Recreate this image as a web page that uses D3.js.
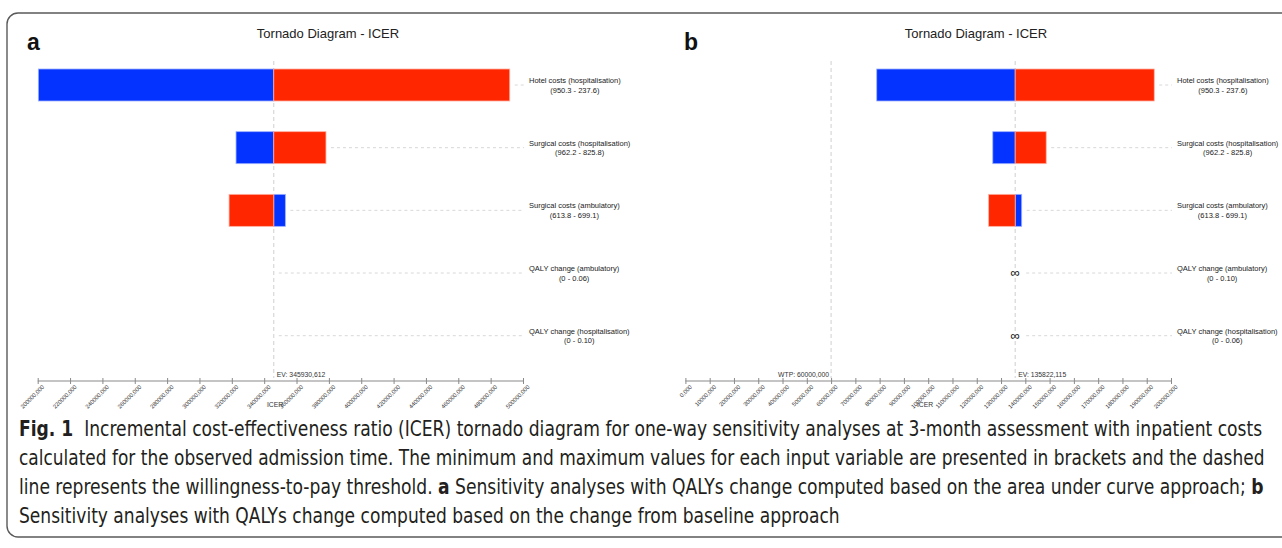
<!DOCTYPE html>
<html>
<head>
<meta charset="utf-8">
<script src="https://cdn.jsdelivr.net/npm/d3@7"></script>
<style>
    body { margin: 0; background: #fff; }
    svg { display: block; }
    .plot text { font-family: "Liberation Sans", Arial, Helvetica, sans-serif; }
    .caption text { font-family: "Liberation Sans Narrow", "DejaVu Sans Condensed", "Roboto", sans-serif; fill: #231f20; }
</style>
</head>
<body>
<svg id="chart" width="1282" height="548"></svg>
<script>
// row labels and input ranges
var rowNames = ["Hotel costs (hospitalisation)", "Surgical costs (hospitalisation)", "Surgical costs (ambulatory)",
    "QALY change (ambulatory)", "QALY change (hospitalisation)"];
var rangesA = ["(950.3 - 237.6)", "(962.2 - 825.8)", "(613.8 - 699.1)", "(0 - 0.06)", "(0 - 0.10)"];
var rangesB = ["(950.3 - 237.6)", "(962.2 - 825.8)", "(613.8 - 699.1)", "(0 - 0.10)", "(0 - 0.06)"];

// ICER at each end of the input range (blue / red end), null = infinite / not shown
var blueA = [200400000, 322600000, 353100000, null, null];
var redA = [491800000, 378200000, 318300000, null, null];
var infA = [false, false, false, false, false];

var blueB = [78800000, 126600000, 138500000, null, null];
var redB = [193100000, 148600000, 124900000, null, null];
var infB = [false, false, false, true, true];

var evA = 345930612;
var evB = 135822115;
var wtpB = 60000000;

var ticksA = d3.range(200000000, 500000001, 20000000);
var ticksB = d3.range(0, 200000001, 10000000);

var captionLines = [
    [["Fig. 1", true], ["  Incremental cost-effectiveness ratio (ICER) tornado diagram for one-way sensitivity analyses at 3-month assessment with inpatient costs", false]],
    [["calculated for the observed admission time. The minimum and maximum values for each input variable are presented in brackets and the dashed", false]],
    [["line represents the willingness-to-pay threshold. ", false], ["a", true], [" Sensitivity analyses with QALYs change computed based on the area under curve approach; ", false], ["b", true]],
    [["Sensitivity analyses with QALYs change computed based on the change from baseline approach", false]]
];

var BLUE = "#0433ff";
var RED = "#ff2600";

var svg = d3.select("#chart");

// frame
svg.append("rect")
    .attr("x", 7).attr("y", 13)
    .attr("width", 1320).attr("height", 524)
    .attr("rx", 11)
    .attr("fill", "none")
    .attr("stroke", "#5a5a5a")
    .attr("stroke-width", 1.4);

function fmt(v) {
    var k = Math.floor(v / 1000);
    var r = Math.round(v - k * 1000);
    return k + "," + ("00" + r).slice(-3);
}

function drawPanel(p) {
    var g = svg.append("g").attr("class", "plot");

    var x = d3.scaleLinear().domain(p.domain).range(p.range);
    var y = d3.scalePoint().domain(d3.range(rowNames.length)).range([85, 335.7]);
    var barH = 32;
    var axisY = 381;

    g.append("text")
        .attr("x", p.letterX).attr("y", 50)
        .attr("font-size", 23).attr("font-weight", "bold")
        .attr("fill", "#111")
        .text(p.letter);

    g.append("text")
        .attr("x", p.titleX).attr("y", 38)
        .attr("text-anchor", "middle")
        .attr("font-size", 13)
        .attr("fill", "#222")
        .text("Tornado Diagram - ICER");

    // reference lines (EV, WTP)
    var refs = [{v: p.ev, label: "EV: " + fmt(p.ev), anchor: "start", dx: 3}];
    if (p.wtp != null) refs.push({v: p.wtp, label: "WTP: " + fmt(p.wtp), anchor: "end", dx: -2});

    refs.forEach(function (r) {
        g.append("line")
            .attr("x1", x(r.v)).attr("x2", x(r.v))
            .attr("y1", 61).attr("y2", 378)
            .attr("stroke", "#cfcfcf")
            .attr("stroke-dasharray", "4,3");
        g.append("text")
            .attr("x", x(r.v) + r.dx).attr("y", 377)
            .attr("text-anchor", r.anchor)
            .attr("font-size", 6.8)
            .attr("fill", "#333")
            .text(r.label);
    });

    var rows = d3.range(rowNames.length).map(function (i) {
        return {i: i, blue: p.blue[i], red: p.red[i], inf: p.inf[i]};
    });

    // guide lines from bar end to label
    g.selectAll(".guide")
        .data(rows)
        .enter()
        .append("line")
        .attr("class", "guide")
        .attr("x1", function (d) {
            if (d.blue == null) return x(p.ev) + (d.inf ? 11 : 5);
            return x(Math.max(d.blue, d.red, p.ev)) + 5;
        })
        .attr("x2", p.labelX - 5)
        .attr("y1", function (d) { return y(d.i); })
        .attr("y2", function (d) { return y(d.i); })
        .attr("stroke", "#d8d8d8")
        .attr("stroke-dasharray", "3,3");

    // bars: one half per end of input range
    var halves = [];
    rows.forEach(function (d) {
        if (d.blue != null) halves.push({i: d.i, v: d.blue, c: BLUE, s: "#9db0ff"});
        if (d.red != null) halves.push({i: d.i, v: d.red, c: RED, s: "#ffb0a0"});
    });

    g.selectAll(".bar")
        .data(halves)
        .enter()
        .append("rect")
        .attr("class", "bar")
        .attr("x", function (d) { return Math.min(x(d.v), x(p.ev)); })
        .attr("width", function (d) { return Math.abs(x(d.v) - x(p.ev)); })
        .attr("y", function (d) { return y(d.i) - barH / 2; })
        .attr("height", barH)
        .attr("fill", function (d) { return d.c; })
        .attr("stroke", function (d) { return d.s; })
        .attr("stroke-width", 0.8);

    g.selectAll(".inf")
        .data(rows.filter(function (d) { return d.inf; }))
        .enter()
        .append("text")
        .attr("class", "inf")
        .attr("x", x(p.ev))
        .attr("y", function (d) { return y(d.i) + 4; })
        .attr("text-anchor", "middle")
        .attr("font-size", 13)
        .attr("fill", "#111")
        .text("\u221e");

    // row labels
    rows.forEach(function (d) {
        var t1 = g.append("text")
            .attr("x", p.labelX).attr("y", y(d.i) - 4.7)
            .attr("dy", "0.35em")
            .attr("font-size", 7.5)
            .attr("fill", "#222")
            .text(rowNames[d.i]);
        var w = t1.node().getComputedTextLength();
        g.append("text")
            .attr("x", p.labelX + w / 2).attr("y", y(d.i) + 4.9)
            .attr("dy", "0.35em")
            .attr("text-anchor", "middle")
            .attr("font-size", 7.5)
            .attr("fill", "#222")
            .text(p.ranges[d.i]);
    });

    // axis
    g.append("line")
        .attr("x1", p.range[0]).attr("x2", p.range[1])
        .attr("y1", axisY).attr("y2", axisY)
        .attr("stroke", "#8a8a8a")
        .attr("stroke-width", 1.2);

    var ax = g.append("g")
        .attr("transform", "translate(0," + (axisY - 3) + ")")
        .call(d3.axisBottom(x).tickValues(p.ticks).tickSize(6).tickFormat(fmt));
    ax.select(".domain").remove();
    ax.selectAll(".tick line").attr("stroke", "#8a8a8a");
    ax.selectAll(".tick text")
        .attr("x", 0).attr("y", 0).attr("dy", "0.35em")
        .attr("transform", "translate(5,8) rotate(-45)")
        .attr("text-anchor", "end")
        .attr("font-family", "Liberation Sans, Arial, sans-serif")
        .attr("font-size", 5.8)
        .attr("fill", "#333");

    g.append("text")
        .attr("x", p.icerX).attr("y", 407)
        .attr("text-anchor", "middle")
        .attr("font-size", 6.8)
        .attr("fill", "#333")
        .text("ICER");
}

drawPanel({
    letter: "a", letterX: 27, titleX: 328, icerX: 275,
    domain: [200000000, 500000000], range: [37.7, 523],
    ticks: ticksA, ev: evA, wtp: null,
    blue: blueA, red: redA, inf: infA, ranges: rangesA,
    labelX: 529
});

drawPanel({
    letter: "b", letterX: 684, titleX: 976, icerX: 925,
    domain: [0, 200000000], range: [685.4, 1171],
    ticks: ticksB, ev: evB, wtp: wtpB,
    blue: blueB, red: redB, inf: infB, ranges: rangesB,
    labelX: 1177
});

// caption
var cap = svg.append("g").attr("class", "caption");
var capTargets = [1244, 1246, 1245, null];
var capScale = [];
captionLines.forEach(function (line, i) {
    var t = cap.append("text")
        .attr("font-size", 20.5)
        .attr("transform", "translate(19," + (436 + i * 29) + ")");
    line.forEach(function (part) {
        t.append("tspan")
            .attr("font-weight", part[1] ? "bold" : "normal")
            .attr("xml:space", "preserve")
            .text(part[0]);
    });
    var w = t.node().getBBox().width;
    var s = capTargets[i] ? capTargets[i] / w : d3.mean(capScale);
    capScale.push(s);
    t.attr("transform", "translate(19," + (436 + i * 29) + ") scale(" + s + ",1)");
});
</script>
</body>
</html>
